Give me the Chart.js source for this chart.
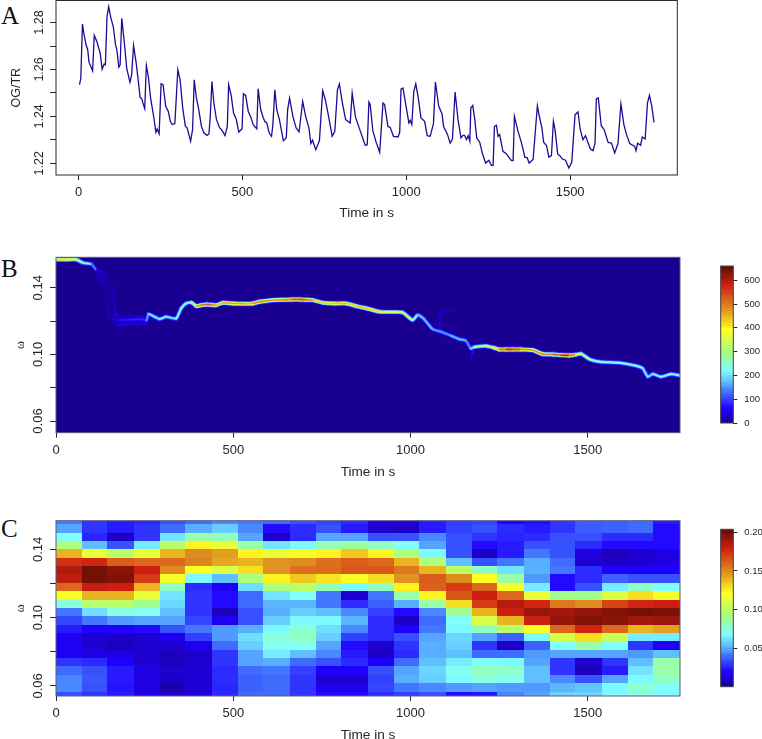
<!DOCTYPE html>
<html><head><meta charset="utf-8">
<style>
html,body{margin:0;padding:0;background:#fff;width:762px;height:739px;overflow:hidden}
canvas{position:absolute;display:block}
.tag{position:absolute;left:1px;font:25px "Liberation Serif",serif;color:#111;line-height:25px}
</style>
<script src="https://cdn.jsdelivr.net/npm/chart.js@4"></script>
</head><body>
<div class="tag" style="top:3px">A</div>
<div class="tag" style="top:256px">B</div>
<div class="tag" style="top:516px">C</div>
<canvas id="a" width="690" height="221" style="left:0;top:0"></canvas>
<canvas id="b" width="690" height="230" style="left:0;top:250px"></canvas>
<canvas id="c" width="690" height="233" style="left:0;top:510px"></canvas>
<canvas id="kb" width="62" height="180" style="left:700px;top:250px"></canvas>
<canvas id="kc" width="62" height="180" style="left:700px;top:515px"></canvas>
<script>
const xTicks=[0,500,1000,1500];
const yTicksA=[1.22,1.23,1.24,1.25,1.26,1.27,1.28];
const yLabelsA=[1.22,1.24,1.26,1.28];
const yTicksOmega=[0.06,0.08,0.10,0.12,0.14];
const yLabelsOmega=[0.06,0.10,0.14];
const keyTicksB=[0,100,200,300,400,500,600];
const keyTicksC=[0.05,0.10,0.15,0.20];

const timeA=[3,7,12,17,23,28,32,43,48,56,66,72,78,82,87,92,99,106,113,117,123,127,132,139,147,157,162,168,176,182,188,193,198,202,207,213,220,230,236,240,246,252,258,266,274,280,286,294,303,310,318,326,331,342,348,353,359,367,375,383,392,398,402,407,413,421,430,438,447,454,458,466,473,481,489,499,503,510,518,525,533,544,548,556,564,569,574,582,589,593,599,605,613,625,634,638,644,654,664,673,684,693,703,709,714,724,735,745,753,762,774,782,790,796,805,815,829,835,845,860,875,881,886,890,898,908,919,929,934,944,951,961,975,980,984,990,1002,1008,1012,1017,1023,1029,1036,1045,1056,1064,1073,1083,1089,1099,1109,1114,1126,1134,1141,1149,1158,1167,1173,1178,1184,1189,1194,1197,1203,1209,1215,1224,1232,1242,1252,1260,1265,1269,1275,1280,1285,1295,1305,1321,1326,1330,1341,1351,1362,1369,1375,1387,1400,1407,1414,1419,1428,1435,1443,1449,1454,1462,1470,1476,1486,1496,1505,1515,1524,1531,1539,1547,1555,1562,1570,1576,1580,1586,1595,1604,1616,1626,1636,1646,1655,1664,1672,1682,1697,1701,1706,1715,1720,1729,1736,1742,1749,1756];
const ratioA=[1.2535,1.2563,1.2794,1.2748,1.2705,1.2684,1.2631,1.2594,1.2745,1.2719,1.267,1.2601,1.2623,1.262,1.2826,1.2868,1.2818,1.2783,1.2705,1.2684,1.261,1.262,1.2818,1.2726,1.2606,1.2545,1.2577,1.2702,1.2627,1.2556,1.2481,1.2475,1.245,1.2433,1.2617,1.257,1.2478,1.2393,1.2332,1.2346,1.2326,1.2539,1.2535,1.2443,1.2421,1.2379,1.2365,1.2369,1.2599,1.2556,1.2435,1.2357,1.2353,1.2294,1.2343,1.2556,1.2485,1.2428,1.2357,1.2329,1.2319,1.2325,1.24,1.2549,1.2457,1.2386,1.2353,1.234,1.2318,1.2357,1.2535,1.2488,1.2414,1.2389,1.2333,1.2347,1.2496,1.2489,1.2421,1.24,1.2365,1.2347,1.2518,1.2428,1.2393,1.2376,1.2374,1.2329,1.2315,1.2365,1.2513,1.2428,1.2386,1.2296,1.2309,1.2428,1.2478,1.24,1.2351,1.2334,1.2464,1.24,1.2351,1.2284,1.2298,1.2258,1.2296,1.2509,1.2471,1.2407,1.2315,1.2336,1.2513,1.2538,1.2457,1.2386,1.2372,1.2499,1.2398,1.2336,1.2276,1.2279,1.2461,1.245,1.2339,1.229,1.2247,1.2457,1.245,1.2357,1.2353,1.2315,1.2312,1.2332,1.2516,1.2521,1.2421,1.2372,1.2383,1.2365,1.2506,1.2539,1.2485,1.2393,1.2379,1.2318,1.2315,1.2369,1.2546,1.2443,1.2411,1.2357,1.2322,1.2286,1.2303,1.2504,1.2386,1.2308,1.2319,1.2319,1.2301,1.2318,1.2294,1.2436,1.2447,1.2386,1.2308,1.229,1.2244,1.2201,1.2213,1.2191,1.219,1.2357,1.2362,1.2315,1.2322,1.2251,1.2241,1.2211,1.2211,1.24,1.2336,1.229,1.2226,1.2223,1.2201,1.2216,1.2445,1.2393,1.235,1.229,1.2276,1.2226,1.2233,1.2379,1.2343,1.224,1.223,1.2218,1.2213,1.218,1.2204,1.2407,1.2419,1.2343,1.2301,1.2318,1.2286,1.2261,1.2254,1.2286,1.2474,1.2478,1.236,1.2343,1.2289,1.2286,1.2244,1.2284,1.2453,1.2365,1.2322,1.2284,1.2272,1.2254,1.2286,1.2276,1.2312,1.2304,1.2457,1.249,1.2445,1.2374];

const ridgeTime=[0,30,57,76,100,114,142,160,180,210,240,255,261,278,292,311,339,353,367,382,396,410,424,438,452,471,500,530,555,574,590,612,640,665,687,705,725,753,785,819,847,880,913,945,977,1006,1020,1038,1062,1086,1114,1137,1156,1170,1180,1213,1235,1250,1270,1288,1310,1344,1373,1400,1425,1448,1465,1481,1504,1533,1589,1636,1655,1669,1683,1706,1735,1758];
const ridgeOmega=[0.157,0.157,0.157,0.155,0.1542,0.1506,0.1476,0.1215,0.1206,0.1208,0.1212,0.1205,0.1242,0.1226,0.1212,0.1226,0.1216,0.1276,0.1306,0.1312,0.129,0.1296,0.13,0.1298,0.1296,0.131,0.1306,0.1304,0.1306,0.1316,0.132,0.1326,0.1328,0.133,0.133,0.1328,0.1326,0.131,0.1306,0.1306,0.129,0.1274,0.1256,0.1254,0.1252,0.1206,0.1236,0.1212,0.1152,0.1136,0.1112,0.1092,0.1082,0.1036,0.1044,0.105,0.104,0.103,0.103,0.103,0.103,0.1026,0.1002,0.1,0.0996,0.0994,0.0998,0.1004,0.0972,0.0956,0.095,0.0932,0.0916,0.0866,0.0882,0.0866,0.0882,0.0874];
const ridgeAmp=[410,420,390,230,210,70,12,12,90,70,100,85,230,200,220,210,205,250,250,230,440,530,500,560,430,470,480,460,440,540,470,500,470,520,550,540,470,410,450,440,430,480,380,350,380,300,190,190,170,150,160,190,170,130,280,300,380,460,560,590,500,470,500,480,560,590,420,360,260,240,230,240,230,190,210,230,230,240];

const haloTime=[125,150,158,180,210,250];
const haloOmega=[0.1485,0.14,0.125,0.1195,0.1205,0.1205];
const haloAmp=[30,18,30,50,40,45];
const sideTime=[1083,1085,1100,1125];
const sideOmega=[0.114,0.1255,0.1258,0.127];
const sideAmp=[45,30,22,15];
const tailTime=[1172,1174,1176];
const tailOmega=[0.0985,0.101,0.1045];
const tailAmp=[40,60,90];

const timeC=[36.7,110,183.3,256.7,330,403.3,476.7,550,623.3,696.7,770,843.3,916.7,990,1063.3,1136.7,1210,1283.3,1356.7,1430,1503.3,1576.7,1650,1723.3];
const omegaC=[0.1567,0.1518,0.1469,0.142,0.1371,0.1322,0.1273,0.1224,0.1175,0.1126,0.1077,0.1028,0.0979,0.093,0.0881,0.0832,0.0783,0.0734,0.0685,0.0636,0.0587,0.0538];
const powerC=[
[.042,.03,.025,.027,.035,.04,.045,.042,.04,.035,.032,.028,.015,.015,.025,.032,.032,.02,.022,.03,.037,.038,.04,.025],
[.05,.03,.025,.03,.04,.052,.058,.045,.022,.028,.035,.025,.012,.01,.025,.032,.035,.028,.025,.03,.037,.038,.04,.022],
[.07,.027,.01,.03,.063,.085,.082,.05,.012,.028,.05,.05,.035,.035,.045,.035,.03,.027,.028,.035,.035,.028,.028,.022],
[.095,.055,.035,.065,.10,.125,.115,.085,.063,.068,.083,.088,.08,.07,.05,.035,.022,.025,.035,.035,.028,.022,.022,.022],
[.14,.115,.10,.115,.14,.15,.145,.125,.115,.12,.125,.135,.125,.095,.068,.035,.01,.025,.042,.035,.015,.008,.012,.015],
[.175,.178,.163,.16,.16,.152,.143,.14,.148,.15,.158,.163,.16,.14,.095,.055,.035,.042,.052,.04,.012,.01,.012,.015],
[.187,.2,.195,.18,.15,.12,.11,.13,.148,.158,.158,.165,.165,.155,.14,.10,.08,.063,.052,.042,.028,.02,.02,.02],
[.183,.2,.197,.172,.12,.068,.055,.095,.125,.135,.128,.122,.13,.148,.163,.15,.122,.085,.048,.022,.028,.038,.035,.035],
[.16,.182,.18,.14,.08,.028,.018,.062,.095,.10,.082,.068,.08,.125,.162,.172,.16,.12,.065,.022,.035,.065,.08,.07],
[.12,.14,.14,.115,.063,.03,.022,.04,.063,.07,.042,.012,.042,.085,.125,.165,.18,.16,.115,.09,.09,.11,.13,.12],
[.075,.098,.10,.09,.06,.03,.022,.04,.053,.053,.042,.028,.038,.052,.085,.13,.172,.185,.178,.155,.15,.17,.178,.18],
[.042,.062,.075,.072,.055,.03,.008,.035,.052,.058,.055,.045,.032,.022,.045,.09,.14,.18,.192,.19,.193,.197,.2,.198],
[.033,.042,.048,.05,.05,.033,.018,.035,.058,.068,.068,.053,.028,.01,.04,.07,.11,.14,.18,.193,.197,.195,.19,.192],
[.025,.02,.02,.022,.035,.042,.048,.052,.068,.078,.062,.045,.028,.02,.042,.068,.08,.098,.12,.16,.178,.16,.14,.145],
[.018,.012,.01,.012,.018,.032,.048,.062,.075,.08,.058,.032,.028,.035,.05,.06,.05,.038,.068,.11,.13,.105,.065,.065],
[.018,.012,.008,.012,.012,.018,.04,.058,.072,.072,.05,.022,.012,.03,.052,.058,.03,.01,.038,.07,.085,.07,.03,.018],
[.018,.015,.015,.012,.008,.012,.03,.05,.065,.055,.045,.025,.01,.028,.052,.055,.04,.04,.048,.05,.05,.05,.048,.055],
[.03,.028,.02,.012,.008,.012,.03,.05,.052,.04,.035,.028,.02,.04,.055,.065,.07,.068,.05,.03,.012,.03,.055,.085],
[.04,.035,.025,.015,.012,.013,.028,.04,.042,.032,.02,.02,.035,.05,.06,.072,.08,.078,.055,.03,.008,.025,.063,.085],
[.045,.036,.025,.016,.01,.013,.028,.038,.04,.03,.012,.012,.032,.052,.058,.068,.075,.072,.055,.045,.035,.05,.068,.08],
[.045,.035,.024,.014,.005,.013,.027,.038,.04,.03,.018,.017,.033,.042,.045,.048,.05,.048,.048,.053,.056,.068,.078,.07],
[.035,.03,.025,.015,.012,.014,.028,.04,.04,.03,.022,.022,.028,.032,.035,.022,.024,.045,.05,.06,.06,.068,.075,.068]
];

const rampStops=[0,.1,.2,.27,.34,.44,.5,.6,.73,.82,.88,1];
const rampColors=[[26,0,144],[32,0,255],[64,112,255],[96,192,255],[128,255,255],[160,255,144],[192,255,96],[255,255,32],[224,144,32],[216,80,24],[208,32,16],[102,13,5]];
function ramp(t){
  t=Math.max(0,Math.min(1,t));
  let i=0;while(i<rampStops.length-2&&t>rampStops[i+1])i++;
  const f=(t-rampStops[i])/(rampStops[i+1]-rampStops[i]);
  const a=rampColors[i],b=rampColors[i+1];
  return 'rgb('+a.map((v,k)=>Math.round(v+(b[k]-v)*f)).join(',')+')';
}
const cellCache={};
function cell(w,h,color){
  const k=w+'/'+h+'/'+color;
  if(!cellCache[k]){const c=document.createElement('canvas');c.width=w;c.height=h;const g=c.getContext('2d');g.fillStyle=color;g.fillRect(0,0,w,h);cellCache[k]=c;}
  return cellCache[k];
}
const FONT='"Liberation Sans",Arial,sans-serif';
const INK='#262626';
const framePlugin={id:'frame',
  beforeDatasetsDraw(ch,a,o){if(o.fill){const r=ch.chartArea;ch.ctx.fillStyle=o.fill;ch.ctx.fillRect(r.left,r.top,r.right-r.left,r.bottom-r.top);}},
  afterDatasetsDraw(ch,a,o){const r=ch.chartArea,g=ch.ctx;g.save();g.strokeStyle=o.color||'#333';g.lineWidth=1;g.strokeRect(r.left,r.top,r.right-r.left,r.bottom-r.top);g.restore();}
};
function panelScales(o){
  return {
    x:{type:'linear',min:o.xMin,max:o.xMax,
      afterFit:s=>{s.height=o.axisH;s.paddingLeft=0;s.paddingRight=0;},
      afterBuildTicks:s=>{s.ticks=xTicks.map(v=>({value:v}))},
      grid:{drawOnChartArea:false,drawTicks:true,tickLength:5,color:INK},border:{display:false},
      ticks:{autoSkip:false,maxRotation:0,padding:o.xPad,color:INK,font:{family:FONT,size:13},callback:v=>String(v)},
      title:{display:true,text:'Time in s',color:INK,font:{family:FONT,size:13.6},padding:0}},
    y:{type:'linear',min:o.yMin,max:o.yMax,
      afterFit:s=>{s.width=56;s.paddingTop=0;s.paddingBottom=0;},
      afterBuildTicks:s=>{s.ticks=o.yTicks.map(v=>({value:v}))},
      grid:{drawOnChartArea:false,drawTicks:true,tickLength:6,color:INK},border:{display:false},
      ticks:{autoSkip:false,minRotation:90,maxRotation:90,crossAlign:'center',padding:-1.5,color:INK,font:{family:FONT,size:o.ySize},
        callback:v=>o.yLabels.includes(v)?v.toFixed(2):''},
      title:{display:true,text:o.yTitle,color:INK,font:o.yTitleFont,padding:{top:o.yTitlePad,bottom:0}}}
  };
}
const baseOpts={responsive:false,animation:false,devicePixelRatio:1,events:[]};
function plugins(frame){return {legend:{display:false},tooltip:{enabled:false},frame};}

new Chart(document.getElementById('a'),{type:'line',plugins:[framePlugin],
  data:{datasets:[{label:'OG/TR',data:timeA.map((t,i)=>({x:t,y:ratioA[i]})),borderColor:'#1d0a96',borderWidth:1.3,pointRadius:0,tension:0,fill:false}]},
  options:{...baseOpts,layout:{padding:{top:0.5,right:12.7,left:0,bottom:0}},
    plugins:plugins({color:'#2a2a2a'}),
    scales:panelScales({xMin:-68.7,xMax:1827,axisH:46,xPad:5,yMin:1.215,yMax:1.2894,yTicks:yTicksA,yLabels:yLabelsA,ySize:12.5,yTitle:'OG/TR',yTitleFont:{family:FONT,size:12.5},yTitlePad:9})}
});

function ridgeLayer(t,w,a,width,k,bend){
  return {data:t.map((v,i)=>({x:v,y:w[i]})),showLine:true,pointRadius:0,borderWidth:width,borderCapStyle:'round',borderJoinStyle:'round',clip:0,tension:bend,
    segment:{borderColor:c=>ramp((a[c.p0DataIndex]+a[c.p1DataIndex])/2*k/660)}};
}
new Chart(document.getElementById('b'),{type:'scatter',plugins:[framePlugin],
  data:{datasets:[
    ridgeLayer(ridgeTime,ridgeOmega,ridgeAmp,1.3,1,0.2),
    ridgeLayer(ridgeTime,ridgeOmega,ridgeAmp,2.5,0.85,0.2),
    ridgeLayer(ridgeTime,ridgeOmega,ridgeAmp,4,0.45,0.2),
    ridgeLayer(ridgeTime,ridgeOmega,ridgeAmp,5.6,0.17,0.2),
    ridgeLayer(tailTime,tailOmega,tailAmp,2,1,0),
    ridgeLayer(sideTime,sideOmega,sideAmp,3,1,0),
    ridgeLayer(haloTime,haloOmega,haloAmp,10,1,0.3)
  ]},
  options:{...baseOpts,layout:{padding:{top:7.3,right:10,left:0,bottom:0}},
    plugins:plugins({color:'#5a5a80',fill:ramp(0)}),
    scales:panelScales({xMin:0,xMax:1760,axisH:47.3,xPad:5,yMin:0.053,yMax:0.1583,yTicks:yTicksOmega,yLabels:yLabelsOmega,ySize:13,yTitle:'ω',yTitleFont:{family:'"Liberation Serif",serif',size:12},yTitlePad:14})}
});

const cellsC=[];
powerC.forEach((row,r)=>row.forEach((v,c)=>cellsC.push({x:timeC[c],y:omegaC[r],v})));
new Chart(document.getElementById('c'),{type:'scatter',plugins:[framePlugin],
  data:{datasets:[{data:cellsC,clip:0,pointRadius:6,pointStyle:ctx=>{
      if(!ctx.chart.chartArea)return 'rect';
      const s=ctx.chart.scales;
      const w=Math.ceil(s.x.getPixelForValue(73.33)-s.x.getPixelForValue(0))+1;
      const h=Math.ceil(s.y.getPixelForValue(0.1)-s.y.getPixelForValue(0.1049))+1;
      return cell(w,h,ramp(ctx.raw.v/0.2035));
    }}]},
  options:{...baseOpts,layout:{padding:{top:10.7,right:10,left:0,bottom:0}},
    plugins:plugins({color:'#5a5a80'}),
    scales:panelScales({xMin:0,xMax:1760,axisH:47,xPad:5,yMin:0.0541,yMax:0.1568,yTicks:yTicksOmega,yLabels:yLabelsOmega,ySize:13,yTitle:'ω',yTitleFont:{family:'"Liberation Serif",serif',size:12},yTitlePad:14})}
});

function keyChart(id,lo,hi,ticks,fmt,padTop,padBottom){
  const n=64,levels=[];
  for(let i=0;i<n;i++)levels.push({x:0,y:lo+(hi-lo)*(i+.5)/n,t:(i+.5)/n});
  new Chart(document.getElementById(id),{type:'scatter',plugins:[framePlugin],
    data:{datasets:[{data:levels,clip:0,pointRadius:6,pointStyle:ctx=>{
      const a=ctx.chart.chartArea;
      if(!a)return 'rect';
      return cell(Math.ceil(a.right-a.left)+1,Math.ceil((a.bottom-a.top)/n)+1,ramp(ctx.raw.t));
    }}]},
    options:{...baseOpts,layout:{padding:{top:padTop,bottom:padBottom,left:20.7,right:0}},
      plugins:plugins({color:'#444'}),
      scales:{
        x:{type:'linear',min:-1,max:1,display:false},
        y:{type:'linear',position:'right',min:lo,max:hi,
          afterFit:s=>{s.width=28.7;s.paddingTop=0;s.paddingBottom=0;},
          afterBuildTicks:s=>{s.ticks=ticks.map(v=>({value:v}))},
          grid:{drawOnChartArea:false,drawTicks:true,tickLength:4,color:INK},border:{display:false},
          ticks:{autoSkip:false,padding:7,color:INK,font:{family:FONT,size:9.5},callback:fmt}}
      }}
  });
}
keyChart('kb',0,660,keyTicksB,v=>String(v),16,6);
keyChart('kc',0.0003,0.2038,keyTicksC,v=>v.toFixed(2),14.3,8.3);
</script>
</body></html>
